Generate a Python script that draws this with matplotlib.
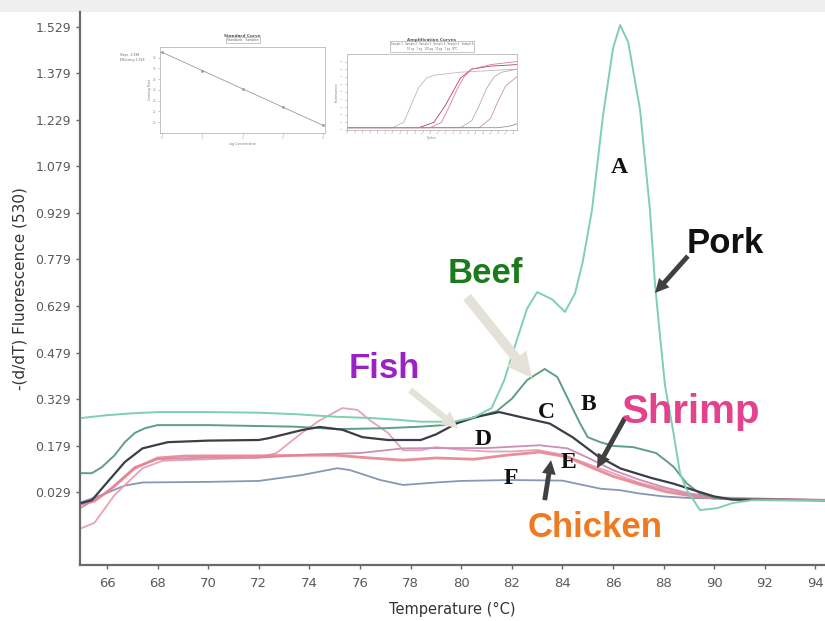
import matplotlib
matplotlib.use('Agg')
import matplotlib.pyplot as plt
from matplotlib.patches import FancyArrowPatch, Rectangle

# ---------------- data ----------------
pork_t = [65.0, 66.0, 67.0, 68.0, 70.0, 72.0, 73.5, 75.0, 76.4, 77.5, 78.4, 79.7, 80.5, 81.2,
          81.7, 82.2, 82.6, 83.0, 83.6, 84.1, 84.5, 84.8, 85.17, 85.6, 86.0, 86.28, 86.6, 87.07,
          87.46, 87.66, 87.86, 88.06, 88.37, 88.65, 88.92, 89.44, 90.11, 90.74, 91.5, 94.4]
pork_v = [0.268, 0.277, 0.283, 0.287, 0.287, 0.285, 0.280, 0.272, 0.268, 0.262, 0.256, 0.256,
          0.270, 0.300, 0.390, 0.520, 0.620, 0.674, 0.650, 0.610, 0.670, 0.770, 0.939, 1.240,
          1.460, 1.535, 1.480, 1.261, 0.939, 0.700, 0.530, 0.370, 0.229, 0.090, 0.035, -0.029,
          -0.023, -0.006, 0.003, 0.003]

beef_t = [65.0, 65.4, 65.8, 66.3, 66.7, 67.1, 67.5, 68.0, 70.0, 72.0, 73.4, 75.1, 77.0, 78.4,
          79.3, 80.1, 80.8, 81.4, 82.0, 82.6, 83.3, 83.8, 84.3, 84.7, 85.0, 85.5, 86.0, 86.8,
          87.7, 88.1, 88.4, 88.9, 89.4, 90.0, 91.0, 94.4]
beef_v = [0.090, 0.090, 0.110, 0.148, 0.190, 0.220, 0.235, 0.245, 0.245, 0.242, 0.240, 0.232,
          0.235, 0.240, 0.245, 0.258, 0.275, 0.290, 0.330, 0.390, 0.426, 0.400, 0.316, 0.250,
          0.206, 0.190, 0.178, 0.174, 0.155, 0.130, 0.110, 0.058, 0.026, 0.010, 0.005, 0.003]

dark_t = [65.0, 65.4, 66.0, 66.7, 67.4, 68.4, 70.0, 72.0, 72.4, 73.7, 74.4, 75.3, 76.1, 77.1,
          78.4, 79.0, 79.8, 80.5, 81.5, 82.4, 83.5, 84.4, 85.4, 86.3, 87.5, 88.4, 89.4, 90.0,
          90.7, 94.4]
dark_v = [-0.006, 0.003, 0.060, 0.126, 0.170, 0.190, 0.195, 0.197, 0.203, 0.229, 0.239, 0.230,
          0.206, 0.197, 0.197, 0.215, 0.250, 0.270, 0.287, 0.270, 0.250, 0.206, 0.145, 0.105,
          0.075, 0.056, 0.030, 0.015, 0.005, 0.003]

red_t = [65.0, 65.5, 66.2, 67.1, 68.0, 69.0, 70.0, 72.0, 74.0, 75.0, 76.4, 77.7, 79.0, 80.5,
         81.8, 83.1, 84.2, 85.1, 86.0, 87.0, 88.1, 89.0, 90.0, 91.0, 94.4]
red_v = [-0.010, 0.000, 0.042, 0.106, 0.139, 0.145, 0.146, 0.146, 0.148, 0.148, 0.139, 0.132,
         0.139, 0.135, 0.148, 0.158, 0.142, 0.110, 0.080, 0.055, 0.030, 0.018, 0.010, 0.005, 0.003]

mauve_t = [65.0, 66.0, 67.1, 68.0, 70.0, 72.0, 74.0, 76.0, 77.7, 79.0, 81.0, 83.1, 84.2, 85.0,
           86.0, 87.0, 88.0, 89.0, 90.0, 94.4]
mauve_v = [-0.020, 0.029, 0.110, 0.135, 0.140, 0.140, 0.150, 0.155, 0.170, 0.171, 0.171, 0.180,
           0.170, 0.140, 0.100, 0.070, 0.045, 0.025, 0.012, 0.003]

lpink_t = [65.0, 65.5, 66.3, 67.4, 68.2, 70.0, 72.0, 72.7, 73.7, 74.4, 75.3, 75.9, 76.4, 77.1,
           77.7, 78.4, 79.0, 80.0, 81.0, 82.0, 83.0, 84.0, 85.0, 86.0, 87.0, 88.0, 89.0, 90.0, 94.4]
lpink_v = [-0.087, -0.070, 0.020, 0.106, 0.130, 0.135, 0.140, 0.155, 0.220, 0.260, 0.300, 0.294,
           0.260, 0.220, 0.164, 0.164, 0.174, 0.165, 0.160, 0.160, 0.165, 0.150, 0.120, 0.090,
           0.060, 0.040, 0.020, 0.008, 0.003]

blue_t = [65.0, 65.8, 66.7, 67.4, 70.0, 72.0, 73.7, 75.1, 75.6, 76.8, 77.7, 79.0, 80.0, 82.0,
          84.0, 85.5, 86.3, 87.0, 88.0, 89.0, 94.4]
blue_v = [-0.003, 0.020, 0.050, 0.060, 0.062, 0.065, 0.084, 0.106, 0.100, 0.068, 0.052, 0.060,
          0.065, 0.068, 0.066, 0.040, 0.035, 0.025, 0.015, 0.010, 0.003]

y_ticks = [0.029, 0.179, 0.329, 0.479, 0.629, 0.779, 0.929, 1.079, 1.229, 1.379, 1.529]
y_labels = ['0.029', '0.179', '0.329', '0.479', '0.629', '0.779', '0.929', '1.079', '1.229',
            '1.379', '1.529']
x_ticks = [66, 68, 70, 72, 74, 76, 78, 80, 82, 84, 86, 88, 90, 92, 94]

peak_letters = ['A', 'B', 'C', 'D', 'E', 'F']
peak_letter_t = [86.24, 85.01, 83.35, 80.86, 84.22, 81.97]
peak_letter_v = [1.074, 0.310, 0.287, 0.197, 0.126, 0.074]

species = ['Pork', 'Beef', 'Fish', 'Shrimp', 'Chicken']
species_t = [90.43, 80.94, 76.95, 89.10, 85.29]
species_v = [0.832, 0.735, 0.429, 0.287, -0.084]
species_col = ['#111111', '#1b7a1b', '#9a22c4', '#e2438c', '#f07a22']
species_size = [25, 25, 25, 29, 25]

# inset: standard curve
std_x = [0, 1, 2, 3, 4]
std_ct = [33.0, 29.6, 26.2, 22.8, 19.4]
# inset: amplification curves (cycle, normalised fluorescence)
amp1_c = [0, 12, 15, 17, 19, 21, 23, 30, 45]
amp1_f = [0.03, 0.03, 0.10, 0.33, 0.56, 0.68, 0.72, 0.76, 0.80]
amp2_c = [0, 19, 23, 26, 28, 30, 33, 38, 45]
amp2_f = [0.03, 0.03, 0.10, 0.32, 0.50, 0.68, 0.80, 0.84, 0.86]
amp3_c = [0, 22, 25, 27, 29, 31, 33, 38, 45]
amp3_f = [0.03, 0.03, 0.10, 0.30, 0.52, 0.70, 0.80, 0.86, 0.90]
amp4_c = [0, 30, 33, 35, 37, 39, 41, 45]
amp4_f = [0.03, 0.03, 0.12, 0.32, 0.55, 0.70, 0.76, 0.80]
amp5_c = [0, 35, 38, 40, 42, 45]
amp5_f = [0.03, 0.03, 0.15, 0.38, 0.58, 0.70]
amp6_c = [0, 40, 43, 45]
amp6_f = [0.03, 0.03, 0.05, 0.08]

# ---------------- figure ----------------
fig = plt.figure(figsize=(8.25, 6.21), dpi=100)
fig.patch.set_facecolor('white')
fig.patches.append(Rectangle((0, 1 - 12 / 621), 1, 12 / 621, transform=fig.transFigure,
                             facecolor='#efefef', edgecolor='none', zorder=-5))

ax = fig.add_axes([0.097, 0.0902, 0.903, 0.8905])
ax.set_xlim(64.93, 94.38)
ax.set_ylim(-0.206, 1.577)

ax.plot(blue_t, blue_v, color='#8797b5', lw=1.3, zorder=2)
ax.plot(lpink_t, lpink_v, color='#e7a3b6', lw=1.3, zorder=2)
ax.plot(mauve_t, mauve_v, color='#c98fb5', lw=1.3, zorder=2)
ax.plot(red_t, red_v, color='#e8838f', lw=2.0, alpha=0.9, zorder=2)
ax.plot(beef_t, beef_v, color='#5f9f86', lw=1.4, zorder=3)
ax.plot(dark_t, dark_v, color='#3b3d48', lw=1.6, zorder=3)
ax.plot(pork_t, pork_v, color='#7fcfb0', lw=1.4, zorder=3)

ax.set_yticks(y_ticks)
ax.set_yticklabels(y_labels)
ax.set_xticks(x_ticks)
ax.set_xticklabels([str(t) for t in x_ticks])
ax.tick_params(axis='both', colors='#666666', labelcolor='#5a5a5a', labelsize=9.5,
               length=3, width=1)
ax.tick_params(axis='y', labelsize=9)
ax.tick_params(axis='x', pad=6)
for side in ['top', 'right']:
    ax.spines[side].set_visible(False)
for side in ['left', 'bottom']:
    ax.spines[side].set_color('#6a6a6a')
    ax.spines[side].set_linewidth(1.6)

ax.set_xlabel('Temperature (°C)', fontsize=10.5, color='#333333', labelpad=8)
ax.set_ylabel('-(d/dT) Fluorescence (530)', fontsize=11, color='#333333')
ax.yaxis.set_label_coords(-0.07, 0.5)

for s, t, v in zip(peak_letters, peak_letter_t, peak_letter_v):
    ax.text(t, v, s, family=['Liberation Serif', 'DejaVu Serif'], fontweight='bold',
            fontsize=17, ha='center', va='center', color='#111111', zorder=6)

for s, t, v, c, fs in zip(species, species_t, species_v, species_col, species_size):
    ax.text(t, v, s, family=['Liberation Sans', 'DejaVu Sans'], fontweight='bold',
            fontsize=fs, ha='center', va='center', color=c, zorder=6)

def arrow(p0, p1, color, tail, head):
    a = FancyArrowPatch(p0, p1, arrowstyle=f'simple,head_length={head},head_width={head},tail_width={tail}',
                        color=color, mutation_scale=1, shrinkA=0, shrinkB=0, zorder=5, lw=0)
    ax.add_patch(a)

arrow((88.96, 0.790), (87.66, 0.671), '#404040', 3.5, 10)    # pork
arrow((80.23, 0.658), (82.80, 0.397), '#e3e1d8', 7, 18)      # beef
arrow((77.98, 0.358), (79.87, 0.235), '#e3e1d8', 4.5, 12)    # fish
arrow((86.47, 0.268), (85.37, 0.106), '#404040', 3.5, 10)    # shrimp
arrow((83.30, 0.003), (83.55, 0.132), '#404040', 3.5, 10)    # chicken

# ---------------- insets ----------------
tiny = 3
ins1 = fig.add_axes([0.194, 0.786, 0.200, 0.1385])
ins1.plot(std_x, std_ct, color='#9a9a9a', lw=0.6, marker='o', ms=1)
ins1.set_xlim(-0.05, 4.05)
ins1.set_ylim(18, 34)
ins1.set_xticks(std_x)
ins1.set_yticks([20, 22, 24, 26, 28, 30, 32])
ins1.tick_params(labelsize=2, length=1.5, width=0.4, colors='#999999', pad=1)
for sp in ins1.spines.values():
    sp.set_color('#aaaaaa')
    sp.set_linewidth(0.5)
ins1.set_title('Standard Curve', fontsize=tiny, color='#555555', fontweight='bold', pad=7)
ins1.set_xlabel('Log Concentration', fontsize=2.2, color='#777777', labelpad=1)
ins1.set_ylabel('Crossing Point', fontsize=2.2, color='#777777', labelpad=1)
ins1.text(0.5, 1.06, 'Standards   Samples', transform=ins1.transAxes, fontsize=2.2,
          ha='center', va='bottom', color='#666666',
          bbox=dict(boxstyle='square,pad=0.4', fc='white', ec='#999999', lw=0.4))
ins1.text(-0.24, 0.93, 'Slope -3.398\nEfficiency 1.969', transform=ins1.transAxes,
          fontsize=2.2, ha='left', va='top', color='#666666')

ins2 = fig.add_axes([0.4206, 0.7907, 0.206, 0.1224])
for cc, ff, col in [(amp1_c, amp1_f, '#c8b0c0'), (amp2_c, amp2_f, '#b0405c'),
                    (amp3_c, amp3_f, '#e07aa8'), (amp4_c, amp4_f, '#b8a8b8'),
                    (amp5_c, amp5_f, '#d090a8'), (amp6_c, amp6_f, '#a08898')]:
    ins2.plot(cc, ff, color=col, lw=0.6)
ins2.set_xlim(0, 45)
ins2.set_ylim(0, 1.0)
ins2.set_xticks(range(0, 46, 2))
ins2.set_yticks([0.1 * i for i in range(10)])
ins2.tick_params(labelsize=1.6, length=1.5, width=0.4, colors='#999999', pad=1)
for sp in ins2.spines.values():
    sp.set_color('#aaaaaa')
    sp.set_linewidth(0.5)
ins2.set_title('Amplification Curves', fontsize=tiny, color='#555555', fontweight='bold',
               pad=9)
ins2.set_xlabel('Cycles', fontsize=2.2, color='#777777', labelpad=1)
ins2.set_ylabel('Fluorescence', fontsize=2.2, color='#777777', labelpad=1)
ins2.text(0.5, 1.04, 'Sample 1   Sample 2   Sample 3   Sample 4   Sample 5   Sample 6\n'
          '10 ng   1 ng   100 pg   10 pg   1 pg   NTC', transform=ins2.transAxes,
          fontsize=1.8, ha='center', va='bottom', color='#666666',
          bbox=dict(boxstyle='square,pad=0.4', fc='white', ec='#999999', lw=0.4))

fig.savefig('out.png', dpi=100)
